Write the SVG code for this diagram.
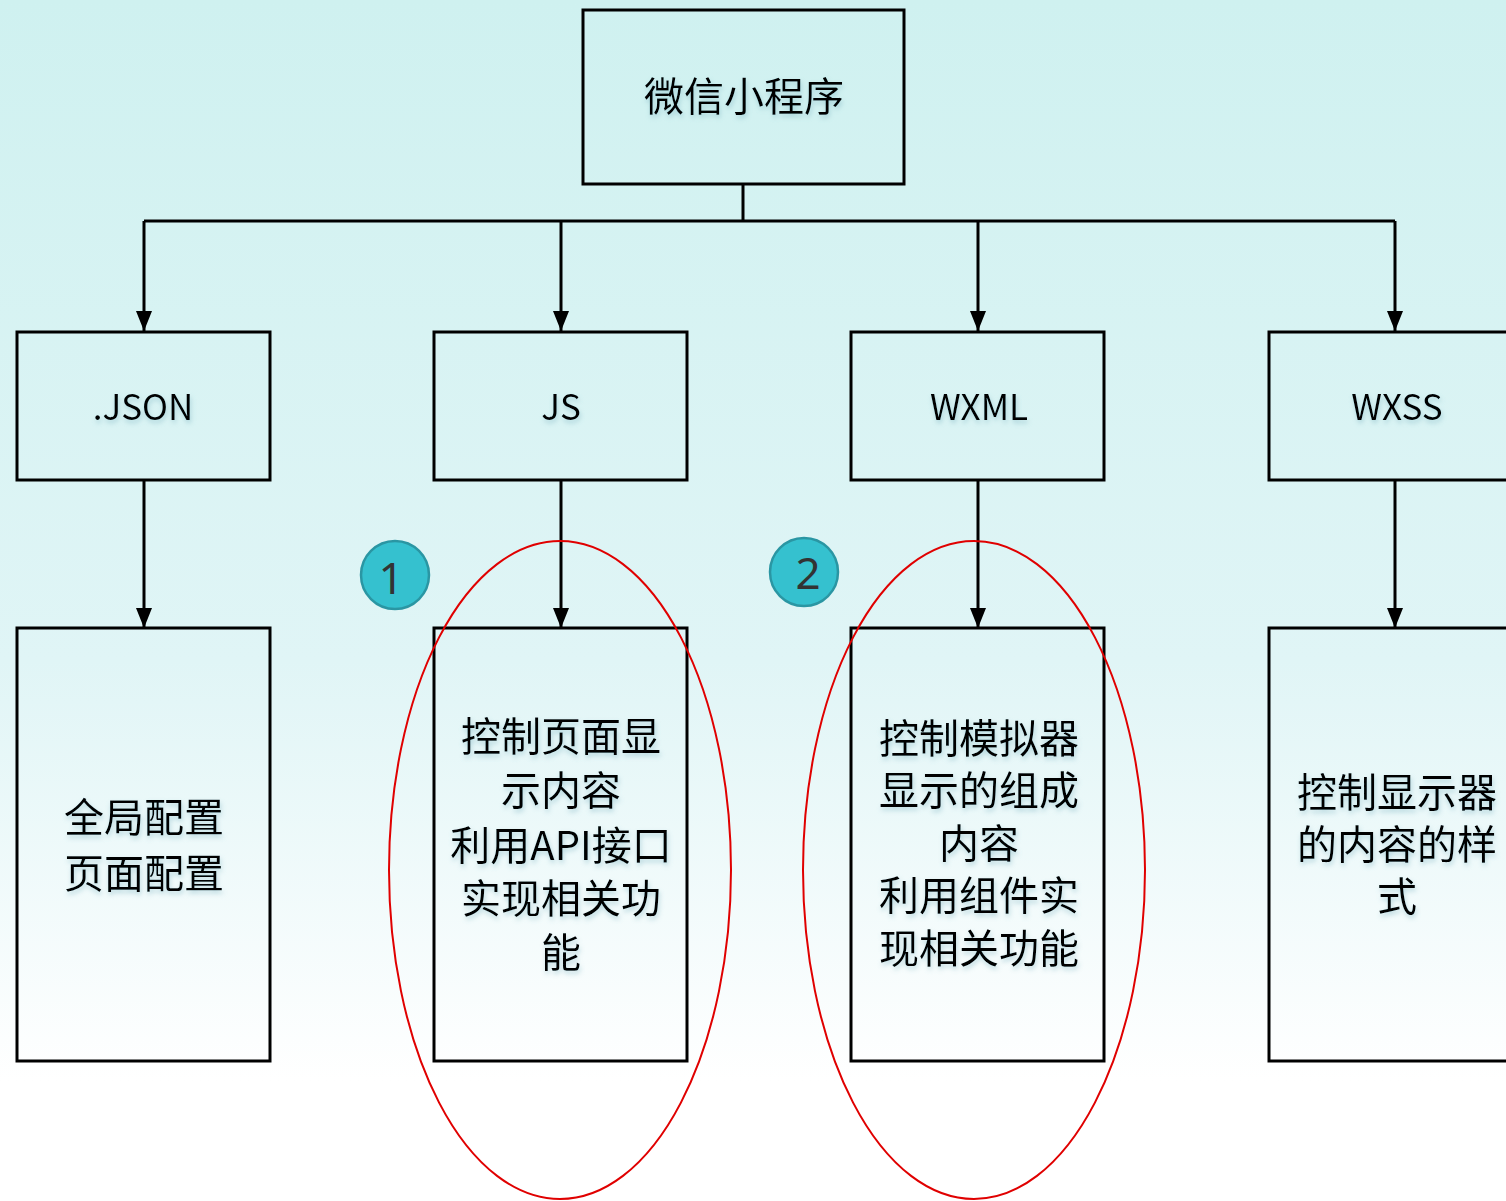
<svg xmlns="http://www.w3.org/2000/svg" width="1506" height="1201" viewBox="0 0 1506 1201">
<defs>
<linearGradient id="bg" x1="0" y1="0" x2="0" y2="1">
<stop offset="0" stop-color="#cff1f0"/>
<stop offset="0.55" stop-color="#e0f5f6"/>
<stop offset="0.9" stop-color="#ffffff"/>
<stop offset="1" stop-color="#ffffff"/>
</linearGradient>
<filter id="ts" x="-10%" y="-30%" width="120%" height="160%">
<feDropShadow dx="1" dy="3" stdDeviation="2.5" flood-color="#6aa8b8" flood-opacity="0.45"/>
</filter>
<marker id="arr" viewBox="0 0 20 20" refX="20" refY="10" markerWidth="20" markerHeight="20" markerUnits="userSpaceOnUse" orient="auto">
<path d="M0,2 L20,10 L0,18 Z" fill="#000"/>
</marker>
<style>
.box{fill:none;stroke:#000;stroke-width:3}
.t{font-family:"Noto Sans CJK SC","Noto Sans",sans-serif;fill:#000;text-anchor:middle;filter:url(#ts)}
.big{font-size:40px}
.mid{font-size:35px}
.con{fill:none;stroke:#000;stroke-width:3}
.ell{fill:none;stroke:#e00000;stroke-width:2}
.badge{fill:#35c1cf;stroke:#2a96a3;stroke-width:2.5}
.bt{font-family:"Noto Sans","Liberation Sans",sans-serif;font-size:44px;fill:#333;text-anchor:middle}
</style>
</defs>
<rect x="0" y="0" width="1506" height="1201" fill="url(#bg)"/>

<g id="connectors">
<path class="con" d="M743,184 V221"/>
<path class="con" d="M144,221 H1395"/>
<path class="con" d="M144,221 V331" marker-end="url(#arr)"/>
<path class="con" d="M561,221 V331" marker-end="url(#arr)"/>
<path class="con" d="M978,221 V331" marker-end="url(#arr)"/>
<path class="con" d="M1395,221 V331" marker-end="url(#arr)"/>
<path class="con" d="M144,480 V628" marker-end="url(#arr)"/>
<path class="con" d="M561,480 V628" marker-end="url(#arr)"/>
<path class="con" d="M978,480 V628" marker-end="url(#arr)"/>
<path class="con" d="M1395,480 V628" marker-end="url(#arr)"/>
</g>

<g id="root">
<rect class="box" x="583" y="10" width="321" height="174"/>
<text class="t big" x="744" y="111">微信小程序</text>
</g>

<g id="json">
<rect class="box" x="17" y="332" width="253" height="148"/>
<text class="t mid" x="143" y="420">.JSON</text>
</g>
<g id="js">
<rect class="box" x="434" y="332" width="253" height="148"/>
<text class="t mid" x="561" y="420">JS</text>
</g>
<g id="wxml">
<rect class="box" x="851" y="332" width="253" height="148"/>
<text class="t mid" x="979" y="420">WXML</text>
</g>
<g id="wxss">
<rect class="box" x="1269" y="332" width="253" height="148"/>
<text class="t mid" x="1397" y="420">WXSS</text>
</g>

<g id="json-desc">
<rect class="box" x="17" y="628" width="253" height="433"/>
<text class="t big" x="144" y="832">全局配置</text>
<text class="t big" x="144" y="888">页面配置</text>
</g>
<g id="js-desc">
<rect class="box" x="434" y="628" width="253" height="433"/>
<text class="t big" x="561" y="751">控制页面显</text>
<text class="t big" x="561" y="805">示内容</text>
<text class="t big" x="561" y="860">利用API接口</text>
<text class="t big" x="561" y="913">实现相关功</text>
<text class="t big" x="561" y="967">能</text>
</g>
<g id="wxml-desc">
<rect class="box" x="851" y="628" width="253" height="433"/>
<text class="t big" x="979" y="753">控制模拟器</text>
<text class="t big" x="979" y="805">显示的组成</text>
<text class="t big" x="979" y="858">内容</text>
<text class="t big" x="979" y="910">利用组件实</text>
<text class="t big" x="979" y="963">现相关功能</text>
</g>
<g id="wxss-desc">
<rect class="box" x="1269" y="628" width="253" height="433"/>
<text class="t big" x="1397" y="807">控制显示器</text>
<text class="t big" x="1397" y="859">的内容的样</text>
<text class="t big" x="1397" y="911">式</text>
</g>

<g id="highlight-1">
<ellipse class="ell" cx="560" cy="870" rx="171" ry="329"/>
</g>
<g id="highlight-2">
<ellipse class="ell" cx="974" cy="870" rx="171" ry="329"/>
</g>

<g id="badge-1">
<circle class="badge" cx="395" cy="575" r="34"/>
<text class="bt" x="391" y="594">1</text>
</g>
<g id="badge-2">
<circle class="badge" cx="804" cy="572" r="34"/>
<text class="bt" x="808" y="589">2</text>
</g>
</svg>
